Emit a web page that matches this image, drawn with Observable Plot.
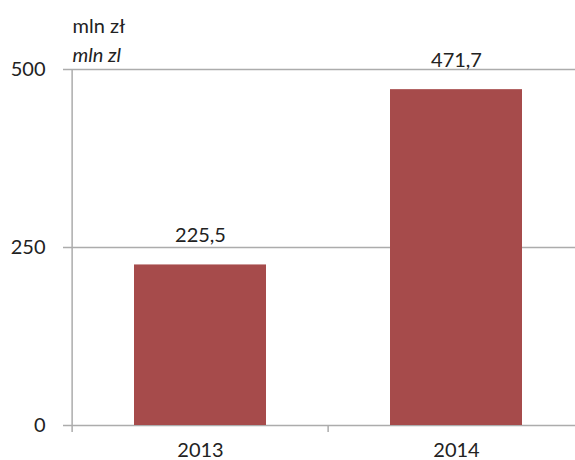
<!DOCTYPE html>
<html><head><meta charset="utf-8">
<script src="https://cdn.jsdelivr.net/npm/d3@7"></script>
<script src="https://cdn.jsdelivr.net/npm/@observablehq/plot@0.6"></script>
<style>body{margin:0;background:#fff}</style>
</head><body><div id="chart"></div>
<script>
// Data
const years = ["2013", "2014"];
const values = [225.5, 471.7];
const yTicks = [0, 250, 500];
const unitLabels = ["mln zł", "mln zl"];

const data = years.map((y, i) => ({year: y, value: values[i], label: String(values[i]).replace(".", ",")}));
const yMax = d3.max(yTicks);
const xRange = [71, 584.5];
const step = (xRange[1] - xRange[0]) / years.length;
const boundaries = years.map((y, i) => ({year: y, top: i === 0 ? yMax : 0}));
const grey = "#acacac";
const txt = "#222222";
const font = "Lato";
const fs = 20;

const chart = Plot.plot({
  width: 575,
  height: 460,
  marginLeft: 71,
  marginRight: 0,
  marginTop: 69,
  marginBottom: 35,
  style: {fontFamily: font, fontSize: fs + "px", color: txt, background: "#fff"},
  x: {domain: years, range: xRange, paddingInner: 0.485, paddingOuter: 0.2425},
  y: {domain: [0, yMax], range: [425, 69]},
  marks: [
    Plot.ruleY(yTicks, {stroke: grey, strokeWidth: 1.5, insetLeft: -8}),
    Plot.barY(data, {x: "year", y: "value", fill: "#a64b4b"}),
    Plot.ruleX(boundaries, {x: "year", dx: -step / 2, y1: "top", y2: 0, insetBottom: -7, stroke: grey, strokeWidth: 1.5}),
    Plot.axisY({ticks: yTicks, tickSize: 0, tickPadding: 26, fontSize: fs, fill: txt, label: null, tickFormat: d => String(d)}),
    Plot.axisX({tickSize: 0, tickPadding: 17, fontSize: fs, fill: txt, label: null}),
    Plot.text(data, {x: "year", y: "value", text: "label", dy: -29.4, lineAnchor: "middle", fontSize: fs, fill: txt}),
    Plot.text([unitLabels[0]], {frameAnchor: "top-left", text: d => d, dx: 1, dy: -43.4, textAnchor: "start", lineAnchor: "middle", fontSize: fs, fill: txt}),
    Plot.text([unitLabels[1]], {frameAnchor: "top-left", text: d => d, dx: 1, dy: -14.4, textAnchor: "start", lineAnchor: "middle", fontSize: fs, fontStyle: "italic", fill: txt})
  ]
});
document.getElementById("chart").appendChild(chart);
</script>
</body></html>
